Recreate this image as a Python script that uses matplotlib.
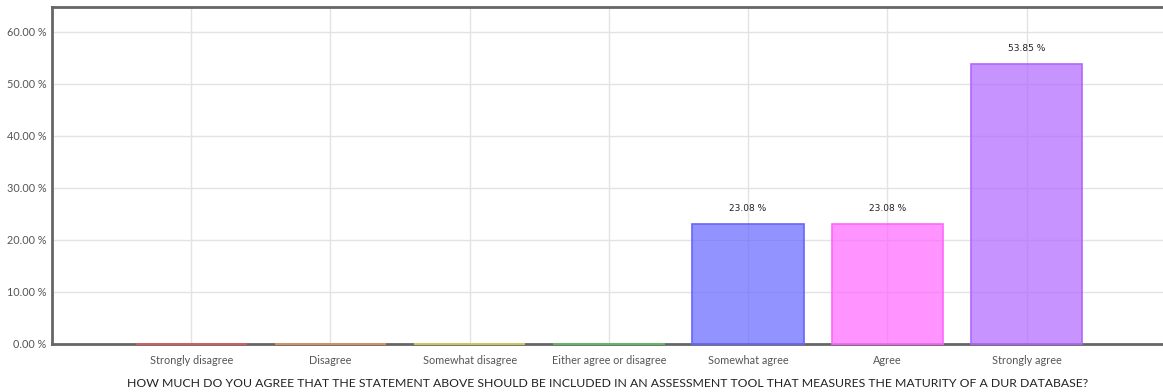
import matplotlib
matplotlib.use("Agg")
import matplotlib.pyplot as plt
import numpy as np

categories = ["Strongly disagree", "Disagree", "Somewhat disagree",
              "Either agree or disagree", "Somewhat agree", "Agree", "Strongly agree"]
percentages = [0.0, 0.0, 0.0, 0.0, 23.08, 23.08, 53.85]
base_colors = ["#e65c5c", "#e69a5c", "#e0d85c", "#5cc85c", "#6666ff", "#ff66ff", "#b066ff"]
y_ticks = [0, 10, 20, 30, 40, 50, 60]
x_title = "HOW MUCH DO YOU AGREE THAT THE STATEMENT ABOVE SHOULD BE INCLUDED IN AN ASSESSMENT TOOL THAT MEASURES THE MATURITY OF A DUR DATABASE?"

plt.rcParams["font.family"] = ["Lato", "DejaVu Sans"]

W, H = 1163, 392
fig = plt.figure(figsize=(W / 100, H / 100), dpi=100)
ax = fig.add_axes([52 / W, 48 / H, (W - 52) / W, 337 / H])

x = np.arange(len(categories))
fills = [matplotlib.colors.to_rgba(c, 0.7) for c in base_colors]
ax.bar(x, percentages, width=0.8, color=fills,
       edgecolor=base_colors, linewidth=1.2, zorder=3, clip_on=False)

for xi, v in zip(x, percentages):
    if v > 0:
        ax.text(xi, v + 2.2, f"{v:.2f} %", ha="center", va="bottom",
                fontsize=6.5, color="#222222", family=["DejaVu Sans"], zorder=4)

ax.set_xlim(-1, 6.98)
ax.set_ylim(0, 64.8)
ax.set_xticks(x)
ax.set_xticklabels(categories, fontsize=7.8, color="#555555")
ax.set_yticks(y_ticks)
ax.set_yticklabels([f"{t:.2f} %" for t in y_ticks], fontsize=7.8, color="#555555")
ax.tick_params(axis="x", length=0, pad=8)
ax.tick_params(axis="y", length=0, pad=4)

ax.grid(True, color="#e3e3e3", linewidth=1.0, zorder=0)
ax.set_axisbelow(True)

for side in ["left", "top", "bottom"]:
    ax.spines[side].set_color("#666666")
    ax.spines[side].set_linewidth(2)
ax.spines["right"].set_visible(False)

ax.set_xlabel(x_title, fontsize=8.8, color="#222222", labelpad=8.5)

fig.savefig("out.png", dpi=100)
